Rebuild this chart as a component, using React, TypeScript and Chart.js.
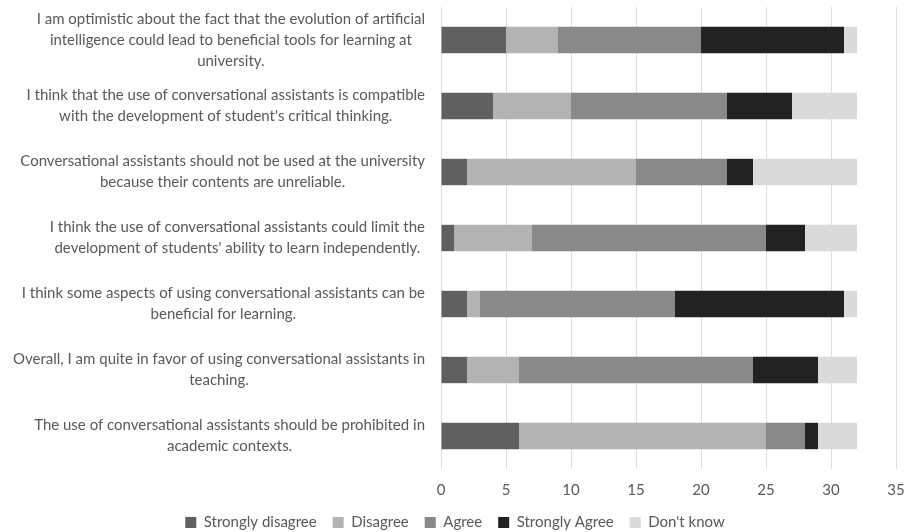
import React, { useEffect, useRef } from "react";
import { Chart, registerables } from "chart.js";

Chart.register(...registerables);

const categories: string[][] = [
  ["I am optimistic about the fact that the evolution of artificial", "intelligence could lead to beneficial tools for learning at", "university."],
  ["I think that the use of conversational assistants is compatible", "with the development of student's critical thinking."],
  ["Conversational assistants should not be used at the university", "because their contents are unreliable."],
  ["I think the use of conversational assistants could limit the", "development of students' ability to learn independently."],
  ["I think some aspects of using conversational assistants can be", "beneficial for learning."],
  ["Overall, I am quite in favor of using conversational assistants in", "teaching."],
  ["The use of conversational assistants should be prohibited in", "academic contexts."],
];

const stronglyDisagree = [5, 4, 2, 1, 2, 2, 6];
const disagree = [4, 6, 13, 6, 1, 4, 19];
const agree = [11, 12, 7, 18, 15, 18, 3];
const stronglyAgree = [11, 5, 2, 3, 13, 5, 1];
const dontKnow = [1, 5, 8, 4, 1, 3, 3];

const xTicks = [0, 5, 10, 15, 20, 25, 30, 35];

const FONT = "Lato, sans-serif";
const TEXT_COLOR = "#595959";

const yLabelPlugin = {
  id: "yLabelPlugin",
  afterDraw(chart: any) {
    const ctx = chart.ctx;
    const yScale = chart.scales.y;
    const rightEdge = chart.chartArea.left - 16;
    ctx.save();
    ctx.font = `15px ${FONT}`;
    ctx.fillStyle = TEXT_COLOR;
    ctx.textAlign = "center";
    ctx.textBaseline = "middle";
    const lineH = 21;
    categories.forEach((lines, i) => {
      const y = yScale.getPixelForValue(i);
      const maxW = Math.max(...lines.map((l) => ctx.measureText(l).width));
      const cx = rightEdge - maxW / 2;
      const startY = y - ((lines.length - 1) * lineH) / 2;
      lines.forEach((l, j) => ctx.fillText(l, cx, startY + j * lineH));
    });
    ctx.restore();
  },
};

export default function App() {
  const ref = useRef<HTMLCanvasElement>(null);
  useEffect(() => {
    if (!ref.current) return;
    const chart = new Chart(ref.current, {
      type: "bar",
      data: {
        labels: categories.map((c) => c.join(" ")),
        datasets: [
          { label: "Strongly disagree", data: stronglyDisagree, backgroundColor: "#606060" },
          { label: "Disagree", data: disagree, backgroundColor: "#b3b3b3" },
          { label: "Agree", data: agree, backgroundColor: "#898989" },
          { label: "Strongly Agree", data: stronglyAgree, backgroundColor: "#222222" },
          { label: "Don't know", data: dontKnow, backgroundColor: "#dadada" },
        ],
      },
      options: {
        indexAxis: "y",
        animation: false,
        responsive: true,
        maintainAspectRatio: false,
        datasets: { bar: { barPercentage: 0.4, categoryPercentage: 1, borderWidth: 0 } },
        layout: { padding: { top: 7, right: 0, left: 0, bottom: -8 } },
        scales: {
          x: {
            stacked: true,
            min: 0,
            max: 35,
            afterBuildTicks: (scale: any) => {
              scale.ticks = xTicks.map((v) => ({ value: v }));
            },
            grid: { color: "#dedede", drawTicks: false, lineWidth: 1 },
            border: { display: false },
            ticks: { color: TEXT_COLOR, font: { family: FONT, size: 15 }, padding: 12 },
            afterFit: (scale: any) => {
              scale.height = 30;
              scale.paddingRight = 14;
            },
          },
          y: {
            stacked: true,
            grid: { display: false },
            border: { display: false },
            ticks: { color: "rgba(0,0,0,0)", font: { size: 1 } },
            afterFit: (scale: any) => {
              scale.width = 441;
            },
          },
        },
        plugins: {
          legend: {
            position: "bottom",
            labels: {
              color: TEXT_COLOR,
              font: { family: FONT, size: 15 },
              boxWidth: 11,
              boxHeight: 11,
              padding: 16,
            },
          },
          tooltip: { enabled: false },
        },
      },
      plugins: [yLabelPlugin],
    });
    return () => chart.destroy();
  }, []);
  return (
    <div style={{ position: "fixed", left: 0, top: 0, width: 910, height: 532, background: "#fff" }}>
      <canvas ref={ref} />
    </div>
  );
}
